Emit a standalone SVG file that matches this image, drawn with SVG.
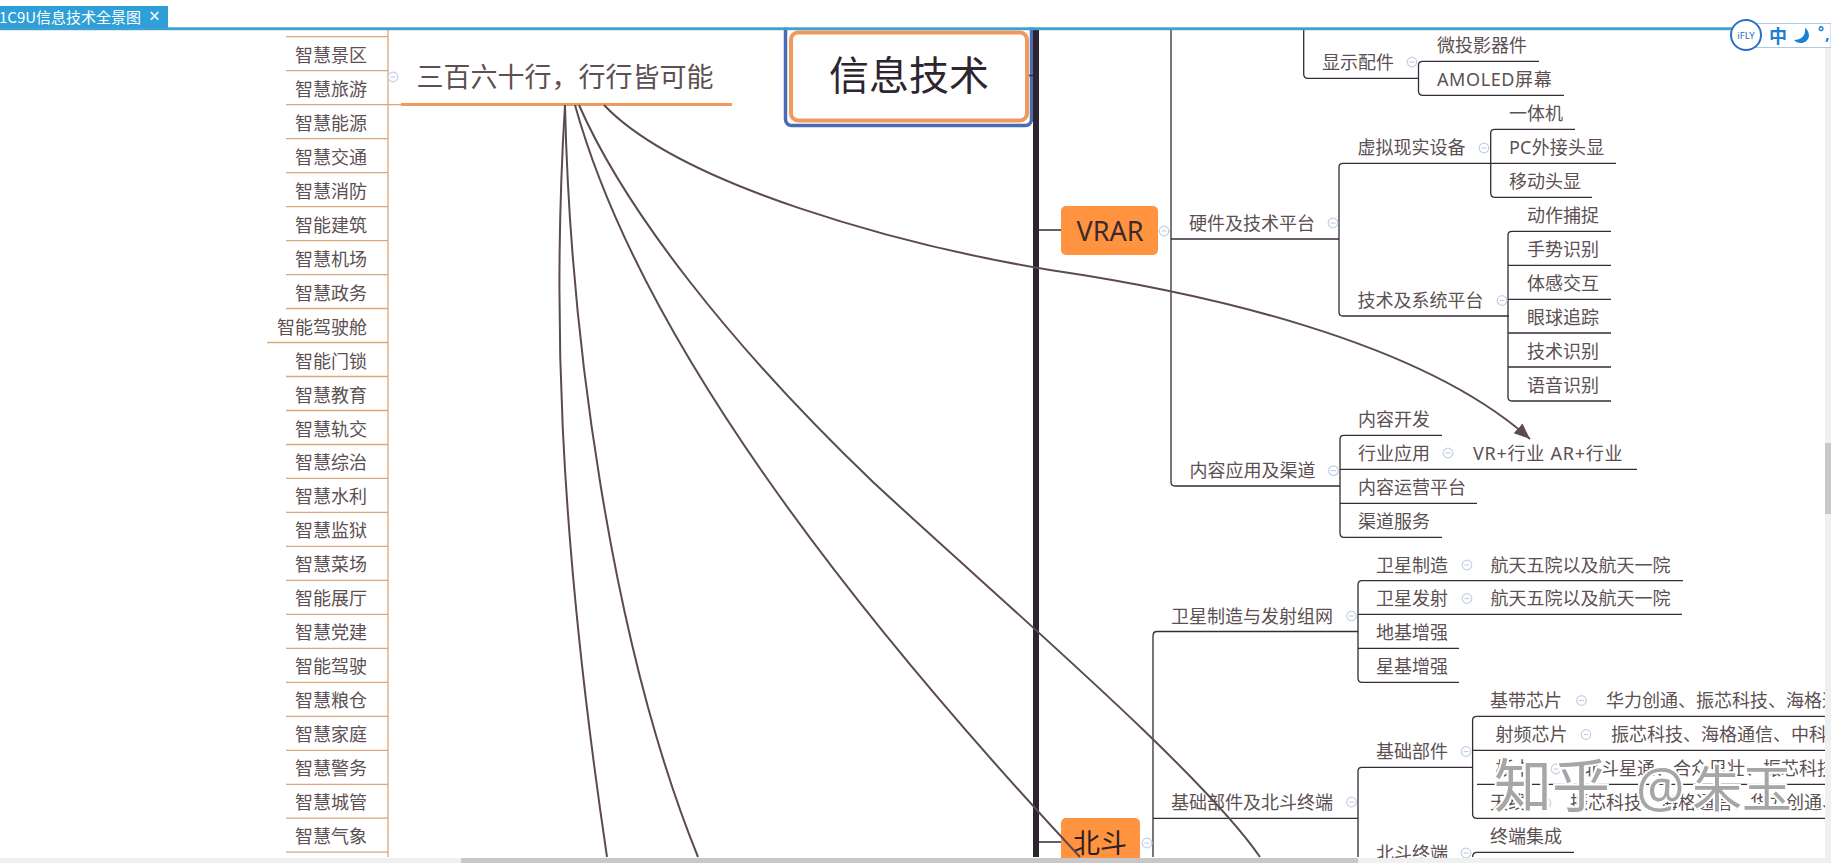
<svg xmlns="http://www.w3.org/2000/svg" width="1831" height="863" viewBox="0 0 1831 863">
<style>
text{font-family:"Noto Sans CJK SC","Noto Sans",sans-serif;font-size:18px;fill:#5c5052;transform:translate(0,1px)}
.u{stroke:#352c34;stroke-width:1.3;fill:none}
.o{stroke:#d9a77c;stroke-width:1.3;fill:none}
.c{stroke:#5c4b4e;stroke-width:2;fill:none}
.ic{fill:#fff;stroke:#c3d0e8;stroke-width:1.2}
.lbl{text-anchor:end}
.wm{font-size:58px;fill:#a6a6a6;stroke:#fff;stroke-width:4;paint-order:stroke}
</style>
<defs>
<g id="ic"><circle r="4.8" class="ic"/><path d="M-2.5 0H2.5" class="ic"/></g>
<marker id="arrow" markerUnits="userSpaceOnUse" markerWidth="18" markerHeight="16" refX="16" refY="8" orient="auto"><path d="M0 1.5L16 8L0 14.5Z" fill="#5c4b4e"/></marker>
</defs>
<rect width="1831" height="863" fill="#fff"/>

<g id="left-branch">
<path class="o" d="M388 30V857M388 104.7H402"/>
<path class="o" d="M286 36.7H388"/>
<use href="#ic" x="393" y="77"/>
</g>
<g id="list" class="list">
<g id="n1"><text x="367" y="60.7" class="lbl">智慧景区</text><path class="o" d="M286 70.7H388"/></g>
<g id="n2"><text x="367" y="94.7" class="lbl">智慧旅游</text><path class="o" d="M286 104.7H388"/></g>
<g id="n3"><text x="367" y="128.7" class="lbl">智慧能源</text><path class="o" d="M286 138.6H388"/></g>
<g id="n4"><text x="367" y="162.6" class="lbl">智慧交通</text><path class="o" d="M286 172.6H388"/></g>
<g id="n5"><text x="367" y="196.6" class="lbl">智慧消防</text><path class="o" d="M286 206.6H388"/></g>
<g id="n6"><text x="367" y="230.6" class="lbl">智能建筑</text><path class="o" d="M286 240.6H388"/></g>
<g id="n7"><text x="367" y="264.6" class="lbl">智慧机场</text><path class="o" d="M286 274.6H388"/></g>
<g id="n8"><text x="367" y="298.5" class="lbl">智慧政务</text><path class="o" d="M286 308.5H388"/></g>
<g id="n9"><text x="367" y="332.5" class="lbl">智能驾驶舱</text><path class="o" d="M267 342.5H388"/></g>
<g id="n10"><text x="367" y="366.5" class="lbl">智能门锁</text><path class="o" d="M286 376.5H388"/></g>
<g id="n11"><text x="367" y="400.5" class="lbl">智慧教育</text><path class="o" d="M286 410.5H388"/></g>
<g id="n12"><text x="367" y="434.5" class="lbl">智慧轨交</text><path class="o" d="M286 444.5H388"/></g>
<g id="n13"><text x="367" y="468.4" class="lbl">智慧综治</text><path class="o" d="M286 478.4H388"/></g>
<g id="n14"><text x="367" y="502.4" class="lbl">智慧水利</text><path class="o" d="M286 512.4H388"/></g>
<g id="n15"><text x="367" y="536.4" class="lbl">智慧监狱</text><path class="o" d="M286 546.4H388"/></g>
<g id="n16"><text x="367" y="570.4" class="lbl">智慧菜场</text><path class="o" d="M286 580.4H388"/></g>
<g id="n17"><text x="367" y="604.4" class="lbl">智能展厅</text><path class="o" d="M286 614.4H388"/></g>
<g id="n18"><text x="367" y="638.3" class="lbl">智慧党建</text><path class="o" d="M286 648.3H388"/></g>
<g id="n19"><text x="367" y="672.3" class="lbl">智能驾驶</text><path class="o" d="M286 682.3H388"/></g>
<g id="n20"><text x="367" y="706.3" class="lbl">智慧粮仓</text><path class="o" d="M286 716.3H388"/></g>
<g id="n21"><text x="367" y="740.3" class="lbl">智慧家庭</text><path class="o" d="M286 750.3H388"/></g>
<g id="n22"><text x="367" y="774.3" class="lbl">智慧警务</text><path class="o" d="M286 784.3H388"/></g>
<g id="n23"><text x="367" y="808.2" class="lbl">智慧城管</text><path class="o" d="M286 818.2H388"/></g>
<g id="n24"><text x="367" y="842.2" class="lbl">智慧气象</text><path class="o" d="M286 852.2H388"/></g>
</g>

<g id="n-industry"><text x="416.500" y="86" style="font-size:27px">三百六十行，行行皆可能</text><path d="M401 104.5H732" stroke="#f0995a" stroke-width="3" fill="none"/></g>

<g id="n-root">
<rect x="785.5" y="10" width="246" height="115.500" rx="6" fill="#fff" stroke="#4a6cb5" stroke-width="3.5"/>
<rect x="791" y="32.5" width="236" height="88" rx="7" fill="#fff" stroke="#f0995a" stroke-width="4"/>
<text x="829" y="89" style="font-size:40px;fill:#2d2530">信息技术</text>
</g>

<g id="connectors">
<path d="M1036 30V857" stroke="#2e2430" stroke-width="6" fill="none"/>
<path class="u" d="M1029 75.5H1033M1039 230H1061M1039 842H1061"/>
<path class="u" d="M1171 30V482Q1171 486 1175 486M1303.7 30V74Q1303.7 78.3 1308 78.3"/>
<path class="u" d="M1339 239V167Q1339 163.3 1343 163.3M1339 239V312Q1339 316 1343 316"/>
<path class="u" d="M1418.5 65V91Q1418.5 95.3 1423 95.3H1564M1423 61.3Q1418.5 61.3 1418.5 65"/>
<path class="u" d="M1495 129.3Q1490.7 129.3 1490.7 133V193Q1490.7 197.3 1495 197.3"/>
<path class="u" d="M1512 231.3Q1508 231.3 1508 235V397Q1508 401 1512 401"/>
<path class="u" d="M1344 435.3Q1340 435.3 1340 439V533Q1340 537.3 1344 537.3"/>
<path class="u" d="M1153 636V857M1157 631.5Q1153 631.5 1153 636"/>
<path class="u" d="M1362 580.7Q1358 580.7 1358 585V678Q1358 682.3 1362 682.3"/>
<path class="u" d="M1362 767.3Q1358 767.3 1358 771V857"/>
<path class="u" d="M1477 716.3Q1472.6 716.3 1472.6 720V814Q1472.6 818.3 1477 818.3"/>
<path class="u" d="M1477 852.3Q1472.6 852.3 1472.6 857"/>
<path d="M1170 231H1158M1143 843H1153" stroke="#c3d0e8" stroke-width="1" fill="none"/>
</g>

<g id="n-vrar"><rect x="1061" y="206" width="97" height="49" rx="5" fill="#ff9340"/><text x="1110" y="240" text-anchor="middle" style="font-size:27px;fill:#3a2a2a;font-family:'Noto Sans',sans-serif">VRAR</text><use href="#ic" x="1164" y="231"/></g>
<g id="n-hw"><text x="1189" y="229">硬件及技术平台</text><path class="u" d="M1171 239H1339"/><use href="#ic" x="1333" y="223"/></g>
<g id="n-disp"><text x="1322" y="68">显示配件</text><path class="u" d="M1308 78.3H1418.5"/><use href="#ic" x="1412" y="62"/></g>
<g id="n-d1"><text x="1437" y="51">微投影器件</text><path class="u" d="M1423 61.3H1539"/></g>
<g id="n-d2"><text x="1437" y="85" style="font-family:'Noto Sans','Noto Sans CJK SC',sans-serif;letter-spacing:.6px">AMOLED屏幕</text></g>
<g id="n-vr"><text x="1357.5" y="153.3">虚拟现实设备</text><path class="u" d="M1343 163.3H1616"/><use href="#ic" x="1484" y="148"/></g>
<g id="n-v1"><text x="1509" y="119.3">一体机</text><path class="u" d="M1495 129.3H1575"/></g>
<g id="n-v2"><text x="1509" y="153.3" style="font-family:'Noto Sans','Noto Sans CJK SC',sans-serif;letter-spacing:.2px">PC外接头显</text></g>
<g id="n-v3"><text x="1509" y="187.3">移动头显</text><path class="u" d="M1495 197.3H1592"/></g>
<g id="n-tech"><text x="1357.5" y="306">技术及系统平台</text><path class="u" d="M1343 316H1509"/><use href="#ic" x="1502" y="300.5"/></g>
<g id="n-t1"><text x="1527" y="221.3">动作捕捉</text><path class="u" d="M1512 231.3H1611"/></g>
<g id="n-t2"><text x="1527" y="255.3">手势识别</text><path class="u" d="M1508 265.3H1611"/></g>
<g id="n-t3"><text x="1527" y="289.3">体感交互</text><path class="u" d="M1508 299.3H1611"/></g>
<g id="n-t4"><text x="1527" y="323">眼球追踪</text><path class="u" d="M1508 333H1611"/></g>
<g id="n-t5"><text x="1527" y="357">技术识别</text><path class="u" d="M1508 367H1611"/></g>
<g id="n-t6"><text x="1527" y="391">语音识别</text><path class="u" d="M1512 401H1611"/></g>
<g id="n-content"><text x="1189.5" y="476">内容应用及渠道</text><path class="u" d="M1175 486H1340"/><use href="#ic" x="1333.5" y="470.6"/></g>
<g id="n-c1"><text x="1358" y="425.3">内容开发</text><path class="u" d="M1344 435.3H1442"/></g>
<g id="n-c2"><text x="1358" y="459.3">行业应用</text><path class="u" d="M1340 469.3H1637"/><use href="#ic" x="1448" y="453"/><text x="1473" y="459.3" style="font-family:'Noto Sans','Noto Sans CJK SC',sans-serif;letter-spacing:.75px">VR+行业 AR+行业</text></g>
<g id="n-c3"><text x="1358" y="493.3">内容运营平台</text><path class="u" d="M1340 503.3H1477"/></g>
<g id="n-c4"><text x="1358" y="527.3">渠道服务</text><path class="u" d="M1344 537.3H1442"/></g>

<g id="n-beidou"><rect x="1061" y="818" width="79" height="50" rx="5" fill="#ff9340"/><text x="1100" y="852" text-anchor="middle" style="font-size:27px;fill:#2f1f1f">北斗</text><use href="#ic" x="1147" y="843"/></g>
<g id="n-sat"><text x="1171" y="622">卫星制造与发射组网</text><path class="u" d="M1157 631.5H1358"/><use href="#ic" x="1351.5" y="616"/></g>
<g id="n-s1"><text x="1376" y="570.7">卫星制造</text><use href="#ic" x="1467" y="565"/><text x="1490.5" y="570.7">航天五院以及航天一院</text><path class="u" d="M1362 580.7H1683"/></g>
<g id="n-s2"><text x="1376" y="604.3">卫星发射</text><use href="#ic" x="1467" y="598.5"/><text x="1490.5" y="604.3">航天五院以及航天一院</text><path class="u" d="M1358 614.3H1682"/></g>
<g id="n-s3"><text x="1376" y="638.3">地基增强</text><path class="u" d="M1358 648.3H1459"/></g>
<g id="n-s4"><text x="1376" y="672.3">星基增强</text><path class="u" d="M1362 682.3H1459"/></g>
<g id="n-base"><text x="1171" y="808.3">基础部件及北斗终端</text><path class="u" d="M1153 818.3H1358"/><use href="#ic" x="1351.5" y="802"/></g>
<g id="n-b1"><text x="1376" y="757.3">基础部件</text><path class="u" d="M1362 767.3H1473"/><use href="#ic" x="1466" y="751.5"/></g>
<g id="n-b2"><text x="1376" y="859">北斗终端</text><use href="#ic" x="1466" y="853"/></g>
<g id="n-p1"><text x="1490" y="706.3">基带芯片</text><use href="#ic" x="1581.5" y="700.5"/><text x="1606" y="706.3">华力创通、振芯科技、海格通信</text><path class="u" d="M1477 716.3H1825"/></g>
<g id="n-p2"><text x="1495.5" y="740.3">射频芯片</text><use href="#ic" x="1586" y="734.5"/><text x="1611" y="740.3">振芯科技、海格通信、中科微</text><path class="u" d="M1472.6 750.3H1825"/></g>
<g id="n-p3"><text x="1495.5" y="774.3">板卡</text><use href="#ic" x="1556" y="769"/><text x="1583" y="774.3">北斗星通、合众思壮、振芯科技</text><path class="u" d="M1477 784.3H1825"/></g>
<g id="n-p4"><text x="1490" y="808.3">天线</text><use href="#ic" x="1546" y="803"/><text x="1570" y="808.3">振芯科技、海格通信、华力创通、</text><path class="u" d="M1477 818.3H1825"/></g>
<g id="n-p5"><text x="1490" y="842.3">终端集成</text><path class="u" d="M1477 852.3H1574"/></g>

<g id="links">
<path class="c" d="M565 105C553 300 557 520 607 857"/>
<path class="c" d="M565 105C570 330 610 640 698 857"/>
<path class="c" d="M575 105C640 340 850 610 1080 857"/>
<path class="c" d="M579 105C625 210 730 345 873 482C1000 600 1200 770 1260 857"/>
<path class="c" d="M604 105C680 185 900 245 1050 270C1200 292 1420 340 1530 439" marker-end="url(#arrow)"/>
</g>

<g id="chrome">
<text x="1494" y="806" class="wm">知乎</text>
<text x="1636" y="806" class="wm" style="font-size:54px;font-family:'Noto Sans',sans-serif">@</text>
<text x="1692" y="806" class="wm" style="font-size:50px">朱玉</text>
<rect x="0" y="0" width="1831" height="27.5" fill="#fff"/>
<rect x="0" y="6" width="168" height="22" fill="#2f9fd8"/>
<text x="-1" y="21.5" style="font-size:15px;fill:#fff">1C9U信息技术全景图</text>
<text x="149" y="22" style="font-size:19px;fill:#fff;font-family:'Noto Sans',sans-serif">×</text>
<rect x="0" y="27.3" width="1735" height="2.9" fill="#3f9fd0"/>
<rect x="1825" y="46" width="6" height="812" fill="#f0f0f0"/>
<rect x="1825" y="443" width="6" height="71" fill="#c8c8c8"/>
<rect x="0" y="858" width="1831" height="5" fill="#f0f0f0"/>
<rect x="461" y="858" width="897" height="5" fill="#c8c8c8"/>
<path d="M1746 23.5H1831V47.5H1746Z" fill="#fff" stroke="#a9c9ea" stroke-width="1"/>
<circle cx="1746" cy="35" r="15" fill="#fff" stroke="#2a70c4" stroke-width="2"/>
<text x="1746" y="37.5" text-anchor="middle" style="font-size:9.5px;fill:#2a70c4;font-family:'Noto Sans',sans-serif">iFLY</text>
<text x="1778" y="41.5" text-anchor="middle" style="font-size:18px;font-weight:700;fill:#1f7fd0">中</text>
<path d="M1805 28C1806 36 1801 40 1794 40C1798 45 1808 44 1809 36C1809 32 1807 29 1805 28Z" fill="#1f7fd0"/>
<text x="1818" y="36" style="font-size:14px;font-weight:700;fill:#1f7fd0;font-family:'Noto Sans',sans-serif">°</text>
<text x="1825" y="39" style="font-size:16px;font-weight:700;fill:#1f7fd0;font-family:'Noto Sans',sans-serif">,</text>
</g>
</svg>
